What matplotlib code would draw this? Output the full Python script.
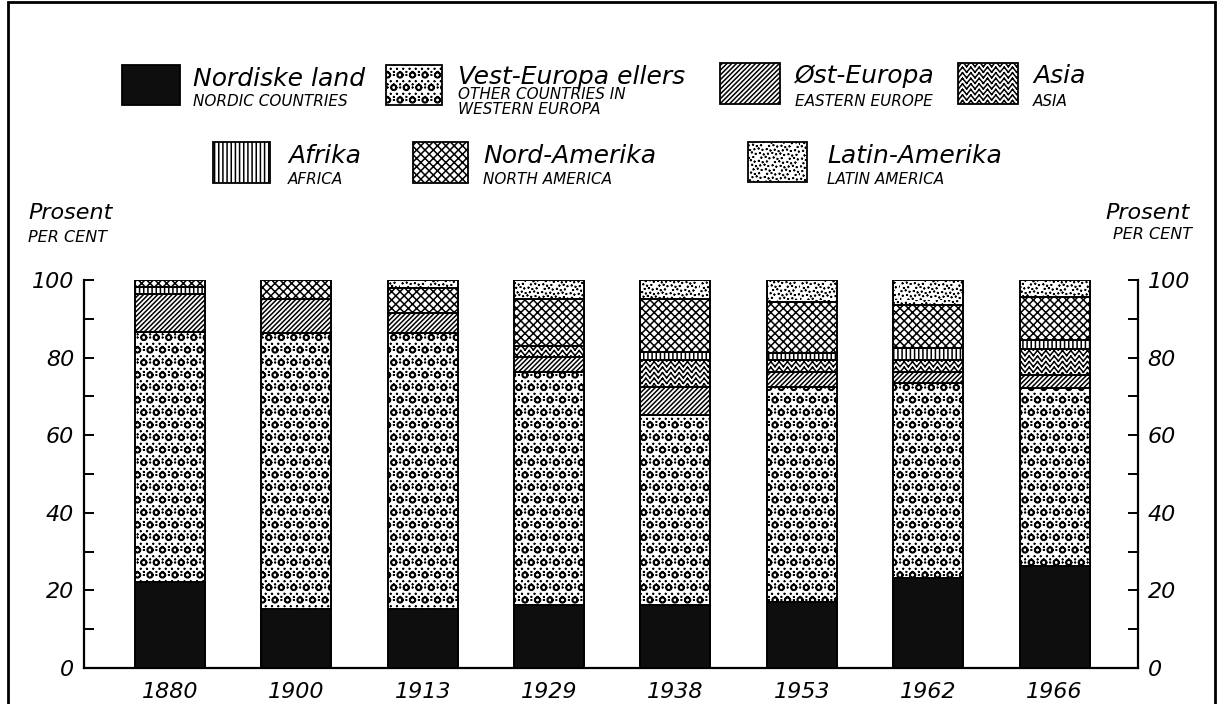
import warnings
import numpy as np
import matplotlib
matplotlib.use('Agg')
import matplotlib.pyplot as plt
from matplotlib.patches import Rectangle
from matplotlib.path import Path
import matplotlib.hatch as mhatch

warnings.filterwarnings('ignore')

# ---------------- data ----------------
years = ['1880', '1900', '1913', '1929', '1938', '1953', '1962', '1966']
nordiske = [22.2, 15.2, 15.2, 16.2, 16.2, 17.0, 23.2, 26.2]
vest_europa = [64.4, 71.1, 71.1, 60.1, 49.0, 55.4, 50.3, 46.0]
ost_europa = [9.8, 8.8, 5.2, 3.9, 7.2, 3.9, 2.8, 3.3]
asia = [0, 0, 0, 2.8, 7.0, 3.1, 3.1, 6.7]
afrika = [1.8, 0, 0, 0, 2.0, 1.8, 3.1, 2.3]
nord_amerika = [1.8, 4.9, 6.4, 12.1, 13.7, 13.1, 11.1, 11.1]
latin_amerika = [0, 0, 2.1, 4.9, 4.9, 5.7, 6.4, 4.4]

series_titles = ['Nordiske land', 'Vest-Europa ellers', 'Øst-Europa', 'Asia',
                 'Afrika', 'Nord-Amerika', 'Latin-Amerika']
series_subtitles = ['NORDIC COUNTRIES', 'OTHER COUNTRIES IN\nWESTERN EUROPA',
                    'EASTERN EUROPE', 'ASIA', 'AFRICA', 'NORTH AMERICA',
                    'LATIN AMERICA']
yticks_major = [0, 20, 40, 60, 80, 100]
yticks_minor = [10, 30, 50, 70, 90]
ylabel_main = 'Prosent'
ylabel_sub = 'PER CENT'


# ---------------- custom hatch patterns (texture only) ----------------
def _poly(cx, cy, r, n=10, reverse=False):
    t = np.linspace(0, 2 * np.pi, n + 1)
    if reverse:
        t = t[::-1]
    return np.column_stack([cx + r * np.cos(t), cy + r * np.sin(t)])


def _shape_codes(m):
    c = np.full(m, Path.LINETO, dtype=Path.code_type)
    c[0] = Path.MOVETO
    return c


class _CustomHatch(mhatch.HatchPatternBase):
    char = '?'

    def __init__(self, hatch, density):
        k = hatch.count(self.char)
        if k:
            self.verts, self.codes = self.build(k)
            self.num_vertices = len(self.verts)
        else:
            self.num_vertices = 0

    def set_vertices_and_codes(self, vertices, codes):
        vertices[:] = self.verts
        codes[:] = self.codes


class ZigzagHatch(_CustomHatch):
    char = 'z'

    def build(self, k):
        rows = 6 * k
        teeth = 12
        amp = 0.05
        extra = int(np.ceil(amp * rows)) + 1
        xs = np.linspace(0, 1, 2 * teeth + 1)
        ys = np.where(np.arange(2 * teeth + 1) % 2 == 1, amp, 0.0)
        verts, codes = [], []
        for r in range(-extra, rows + 1):
            y0 = r / rows
            for i in range(2 * teeth):
                verts += [(xs[i], y0 + ys[i]), (xs[i + 1], y0 + ys[i + 1])]
                codes += [Path.MOVETO, Path.LINETO]
        return np.array(verts), np.array(codes, dtype=Path.code_type)


class RingDotHatch(_CustomHatch):
    char = 'c'

    def build(self, k):
        n = 8 * k
        verts, codes = [], []
        for i in range(-1, n + 2):
            for j in range(-1, n + 2):
                cx = (j + 0.5 * (i % 2)) / n
                cy = i / n
                outer = _poly(cx, cy, 0.029, 14)
                inner = _poly(cx, cy, 0.023, 14, reverse=True)
                for p in (outer, inner):
                    verts.append(p)
                    codes.append(_shape_codes(len(p)))
                for dx, dy in ((0.5, 0.0), (0.25, 0.5), (-0.25, 0.5),
                               (0.5, 0.25), (0.0, 0.25)):
                    d = _poly(cx + dx / n, cy + dy / n, 0.003, 6)
                    verts.append(d)
                    codes.append(_shape_codes(len(d)))
        return np.vstack(verts), np.concatenate(codes)


class StippleHatch(_CustomHatch):
    char = 's'

    def build(self, k):
        num = 560 * k
        idx = np.arange(num)
        xs = np.mod(0.5 + idx * 0.7548776662, 1.0)
        ys = np.mod(0.5 + idx * 0.5698402910, 1.0)
        verts, codes = [], []
        for x0, y0 in zip(xs, ys):
            d = _poly(x0, y0, 0.003, 6)
            verts.append(d)
            codes.append(_shape_codes(len(d)))
        return np.vstack(verts), np.concatenate(codes)


mhatch._hatch_types.extend([ZigzagHatch, RingDotHatch, StippleHatch])
mhatch._validate_hatch_pattern = lambda h: None

plt.rcParams['hatch.linewidth'] = 1.1
plt.rcParams['font.family'] = ['DejaVu Sans']

series_values = [nordiske, vest_europa, ost_europa, asia, afrika,
                 nord_amerika, latin_amerika]
series_styles = [
    dict(facecolor='#0e0e0e', hatch=None),
    dict(facecolor='white', hatch='c'),
    dict(facecolor='white', hatch='///////'),
    dict(facecolor='white', hatch='zzz'),
    dict(facecolor='white', hatch='||||'),
    dict(facecolor='white', hatch='xxxx'),
    dict(facecolor='white', hatch='s'),
]

W, H = 1220, 704
fig = plt.figure(figsize=(W / 100, H / 100), dpi=100)


def fx(px):
    return px / W


def fy(py):
    return 1 - py / H


ax = fig.add_axes([fx(84), fy(668), fx(1138) - fx(84), fy(280) - fy(668)])

x = np.arange(len(years))
bottom = np.zeros(len(years))
bar_w = 0.554
for vals, st in zip(series_values, series_styles):
    vals = np.array(vals, dtype=float)
    m = vals > 0
    ax.bar(x[m], vals[m], bottom=bottom[m], width=bar_w,
           facecolor=st['facecolor'], hatch=st['hatch'],
           edgecolor='black', linewidth=1.4, zorder=3)
    bottom += vals

ax.set_xlim(-0.68, 7.66)
ax.set_ylim(0, 100)
ax.set_xticks(x)
ax.set_xticklabels(years, fontsize=16, style='italic')
ax.tick_params(axis='x', length=0, pad=10)
ax.set_yticks(yticks_major)
ax.set_yticks(yticks_minor, minor=True)
ax.set_yticklabels([str(v) for v in yticks_major], fontsize=16,
                   style='italic')
ax.tick_params(axis='y', which='both', direction='in', left=True,
               right=True, labelleft=True, labelright=True, width=1.4)
ax.tick_params(axis='y', which='major', length=7, pad=7)
ax.tick_params(axis='y', which='minor', length=7)
ax.spines['top'].set_visible(False)
for s in ['left', 'right', 'bottom']:
    ax.spines[s].set_linewidth(1.6)

# y-axis headers
fig.text(fx(28), fy(213), ylabel_main, fontsize=16, style='italic',
         ha='left', va='center')
fig.text(fx(28), fy(237), ylabel_sub, fontsize=11.5, style='italic',
         ha='left', va='center')
fig.text(fx(1190), fy(213), ylabel_main, fontsize=16, style='italic',
         ha='right', va='center')
fig.text(fx(1192), fy(235), ylabel_sub, fontsize=11.5, style='italic',
         ha='right', va='center')

# legend (manual layout)
legend_layout = [
    # swatch x0, y0, x1, y1, text x, title y, sub y
    (122, 65, 180, 105, 193, 79, 102),
    (386, 65, 442, 105, 458, 77, 102),
    (720, 63, 780, 104, 795, 76, 101),
    (958, 63, 1018, 104, 1033, 76, 101),
    (213, 142, 270, 183, 288, 156, 179),
    (413, 142, 468, 183, 483, 156, 179),
    (748, 142, 807, 182, 827, 156, 179),
]
for (x0, y0, x1, y1, tx, ty, sy), title, sub, st in zip(
        legend_layout, series_titles, series_subtitles, series_styles):
    rect = Rectangle((fx(x0), fy(y1)), fx(x1) - fx(x0), fy(y0) - fy(y1),
                     transform=fig.transFigure, facecolor=st['facecolor'],
                     hatch=st['hatch'], edgecolor='black', linewidth=1.3)
    fig.add_artist(rect)
    fig.text(fx(tx), fy(ty), title, fontsize=18, style='italic',
             ha='left', va='center')
    fig.text(fx(tx), fy(sy), sub, fontsize=11, style='italic',
             ha='left', va='center', linespacing=1.05)

# outer frame
frame = Rectangle((fx(8), -0.05), fx(1215) - fx(8), fy(2) + 0.05,
                  transform=fig.transFigure, facecolor='none',
                  edgecolor='black', linewidth=2)
fig.add_artist(frame)

fig.savefig('out.png', dpi=100)
